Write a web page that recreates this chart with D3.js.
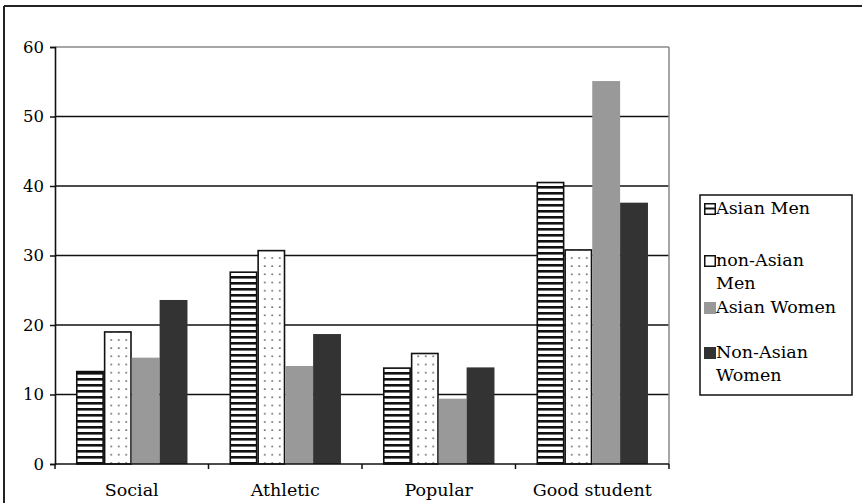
<!DOCTYPE html>
<html>
<head>
<meta charset="utf-8">
<script src="https://cdn.jsdelivr.net/npm/d3@7"></script>
<style>
  html, body { margin: 0; padding: 0; background: #fff; }
  svg { display: block; }
  text { font-family: "DejaVu Serif", "Liberation Serif", serif; fill: #000; }
</style>
</head>
<body>
<svg id="chart" width="862" height="503"></svg>
<script>
// Share of respondents naming each trait, by group
const categories = ["Social", "Athletic", "Popular", "Good student"];
const seriesNames = ["Asian Men", "non-Asian Men", "Asian Women", "Non-Asian Women"];
const asianMen      = [13.3, 27.6, 13.8, 40.5];
const nonAsianMen   = [19.0, 30.7, 15.9, 30.8];
const asianWomen    = [15.3, 14.1, 9.4, 55.1];
const nonAsianWomen = [23.6, 18.7, 13.9, 37.6];
const yTicks = [0, 10, 20, 30, 40, 50, 60];
const legendLines = [["Asian Men"], ["non-Asian", "Men"], ["Asian Women"], ["Non-Asian", "Women"]];

const seriesValues = [asianMen, nonAsianMen, asianWomen, nonAsianWomen];

const svg = d3.select("#chart");
const defs = svg.append("defs");

// horizontal stripes
const stripe = defs.append("pattern").attr("id", "stripes")
  .attr("patternUnits", "userSpaceOnUse").attr("width", 8).attr("height", 6);
stripe.append("rect").attr("width", 8).attr("height", 6).attr("fill", "#fff");
stripe.append("rect").attr("y", 0).attr("width", 8).attr("height", 2.6).attr("fill", "#111");

// sparse dots
const dots = defs.append("pattern").attr("id", "dots")
  .attr("patternUnits", "userSpaceOnUse").attr("width", 7.5).attr("height", 8.2);
dots.append("rect").attr("width", 7.5).attr("height", 8.2).attr("fill", "#fff");
dots.append("rect").attr("x", 3).attr("y", 3).attr("width", 1.5).attr("height", 1.5).attr("fill", "#55464f");

const fills = ["url(#stripes)", "url(#dots)", "#999999", "#333333"];
const strokes = ["#111", "#111", "none", "none"];

// outer frame
svg.append("line").attr("x1", 4).attr("x2", 862).attr("y1", 6).attr("y2", 6)
  .attr("stroke", "#222").attr("stroke-width", 2);
svg.append("line").attr("x1", 4).attr("x2", 4).attr("y1", 6).attr("y2", 503)
  .attr("stroke", "#222").attr("stroke-width", 2);

const plot = { left: 55, right: 669, top: 47, bottom: 464 };

const y = d3.scaleLinear().domain([0, 60]).range([plot.bottom, plot.top]);
const x0 = d3.scaleBand().domain(categories).range([plot.left, plot.right]).padding(0);
const pad = x0.bandwidth() * 0.137;
const x1 = d3.scaleBand().domain(seriesNames).range([pad, x0.bandwidth() - pad]).padding(0);

// horizontal gridlines
svg.append("g").selectAll("line").data(yTicks.filter(t => t > 0 && t < 60)).join("line")
  .attr("x1", plot.left).attr("x2", plot.right)
  .attr("y1", d => y(d)).attr("y2", d => y(d))
  .attr("stroke", "#111").attr("stroke-width", 1.5);

// plot frame (top and right in grey)
svg.append("line").attr("x1", plot.left).attr("x2", plot.right)
  .attr("y1", y(60)).attr("y2", y(60)).attr("stroke", "#888").attr("stroke-width", 1.5);
svg.append("line").attr("x1", plot.right).attr("x2", plot.right)
  .attr("y1", y(60)).attr("y2", plot.bottom).attr("stroke", "#888").attr("stroke-width", 1.5);

// bars
const groups = svg.append("g").selectAll("g").data(categories).join("g")
  .attr("transform", d => `translate(${x0(d)},0)`);
groups.selectAll("rect")
  .data((c, ci) => seriesNames.map((s, si) => ({ s, si, v: seriesValues[si][ci] })))
  .join("rect")
  .attr("x", d => x1(d.s) + (strokes[d.si] !== "none" ? 0.75 : 0))
  .attr("width", d => x1.bandwidth() - (strokes[d.si] !== "none" ? 1.5 : 0))
  .attr("y", d => y(d.v))
  .attr("height", d => y(0) - y(d.v))
  .attr("fill", d => fills[d.si])
  .attr("stroke", d => strokes[d.si])
  .attr("stroke-width", 1.6);

// y axis
const yAxis = svg.append("g").attr("transform", `translate(${plot.left},0)`)
  .call(d3.axisLeft(y).tickValues(yTicks).tickSize(5).tickPadding(6));
yAxis.select(".domain").attr("stroke", "#111").attr("stroke-width", 1.6);
yAxis.selectAll(".tick line").attr("stroke", "#111").attr("stroke-width", 1.5);
yAxis.selectAll(".tick text").attr("font-size", 16.5).attr("font-family", "DejaVu Serif").attr("fill", "#111");

// x axis with ticks at category boundaries
const xAxisG = svg.append("g").attr("transform", `translate(0,${plot.bottom})`);
xAxisG.append("line").attr("x1", plot.left).attr("x2", plot.right)
  .attr("stroke", "#111").attr("stroke-width", 1.6);
const bounds = categories.map(c => x0(c)).concat([plot.right]);
xAxisG.selectAll("line.tk").data(bounds).join("line").attr("class", "tk")
  .attr("x1", d => d).attr("x2", d => d).attr("y1", 0).attr("y2", 5)
  .attr("stroke", "#111").attr("stroke-width", 1.5);
xAxisG.selectAll("text").data(categories).join("text")
  .attr("x", d => x0(d) + x0.bandwidth() / 2).attr("y", 32)
  .attr("text-anchor", "middle").attr("font-size", 17.5).text(d => d);

// legend
const lg = svg.append("g");
lg.append("rect").attr("x", 700).attr("y", 195).attr("width", 152).attr("height", 200)
  .attr("fill", "#fff").attr("stroke", "#111").attr("stroke-width", 1.5);
const legendBase = [214, 266, 313, 358];
legendLines.forEach((lines, i) => {
  const by = legendBase[i];
  lg.append("rect").attr("x", 704 + (strokes[i] !== "none" ? 0.75 : 0))
    .attr("y", by - 11 + (strokes[i] !== "none" ? 0.75 : 0))
    .attr("width", strokes[i] !== "none" ? 10.5 : 12).attr("height", strokes[i] !== "none" ? 10.5 : 12)
    .attr("fill", i === 0 ? "#fff" : fills[i] === "url(#dots)" ? "#fff" : fills[i])
    .attr("stroke", strokes[i]).attr("stroke-width", 1.5);
  if (i === 0) {
    lg.append("line").attr("x1", 705).attr("x2", 715).attr("y1", by - 5.5).attr("y2", by - 5.5)
      .attr("stroke", "#111").attr("stroke-width", 2);
  }
  lines.forEach((t, k) => {
    lg.append("text").attr("x", 716).attr("y", by + k * 23).attr("font-size", 17.5).text(t);
  });
});
</script>
</body>
</html>
